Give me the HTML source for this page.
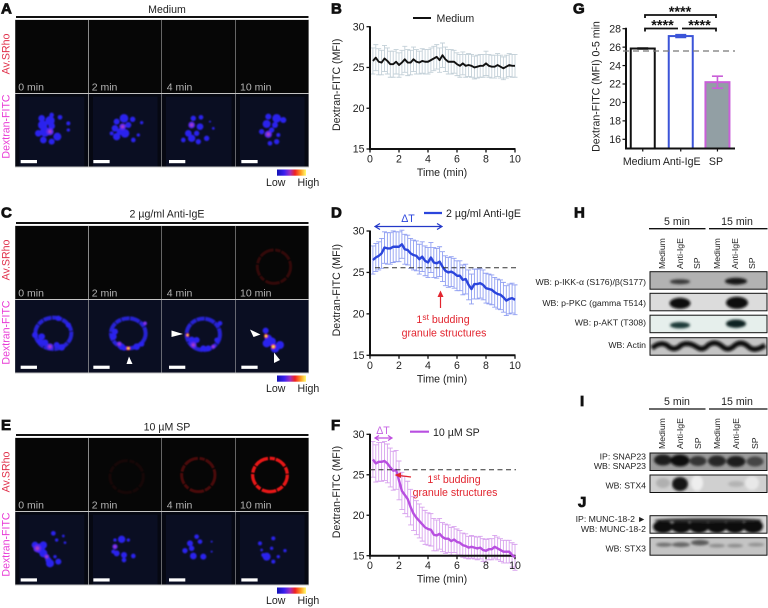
<!DOCTYPE html>
<html lang="en">
<head>
<meta charset="utf-8">
<title>Dextran-FITC figure</title>
<style>
html,body{margin:0;padding:0;background:#fff;width:768px;height:608px;overflow:hidden}
svg{display:block}
text{font-family:"Liberation Sans",sans-serif;fill:#222}
.pl{font-weight:bold;font-size:15px;fill:#111;stroke:#111;stroke-width:.8px}
.t{font-size:10.6px}
.s{font-size:8.7px}
.m{font-size:10.5px;fill:#b4b4b4}
.r{font-size:10.6px;fill:#e2252f}
</style>
</head>
<body>
<svg id="fig" xmlns="http://www.w3.org/2000/svg" width="768" height="608" viewBox="0 0 768 608">
<defs>
<linearGradient id="lut" x1="0" x2="1" y1="0" y2="0">
<stop offset="0" stop-color="#1212b4"/><stop offset=".25" stop-color="#3a20f0"/><stop offset=".45" stop-color="#a030c0"/><stop offset=".62" stop-color="#f02020"/><stop offset=".82" stop-color="#ff9a20"/><stop offset="1" stop-color="#ffff70"/>
</linearGradient>
<filter id="b1" x="-30%" y="-30%" width="160%" height="160%"><feGaussianBlur stdDeviation="2.6"/></filter>
<filter id="b2" x="-30%" y="-30%" width="160%" height="160%"><feGaussianBlur stdDeviation="1.6"/></filter>
<filter id="b3" x="-30%" y="-60%" width="160%" height="220%"><feGaussianBlur stdDeviation="1.2"/></filter>
</defs>

<g>
<text class="pl" x="1" y="13.500">A</text>
<text class="pl" x="331" y="13.500">B</text>
<text class="pl" x="1" y="217.500">C</text>
<text class="pl" x="331" y="217.500">D</text>
<text class="pl" x="1" y="430">E</text>
<text class="pl" x="331" y="430">F</text>
<text class="pl" x="573" y="13.500">G</text>
<text class="pl" x="574" y="217.500">H</text>
<text class="pl" x="580" y="406">I</text>
<text class="pl" x="578" y="507">J</text>
</g>

<g id="micro"></g>
<g id="charts"></g>

<g id="chartAnno">
<line x1="413" x2="431" y1="18" y2="18" stroke="#111" stroke-width="2"/>
<text class="t" x="436.500" y="22">Medium</text>

<line x1="424" x2="442" y1="213" y2="213" stroke="#2b45dc" stroke-width="2.200"/>
<text class="t" x="446" y="217">2 µg/ml Anti-IgE</text>
<text class="t" x="408" y="222" text-anchor="middle" style="fill:#2b45dc">ΔT</text>
<path d="M375 226.500H442M380 223.500L375 226.500L380 229.500M437 223.500L442 226.500L437 229.500" fill="none" stroke="#2338c8" stroke-width="1.200"/>
<line x1="375" x2="517" y1="267.700" y2="267.700" stroke="#333" stroke-width="1" stroke-dasharray="5 3.500"/>
<path d="M440.500 308V295" stroke="#e2252f" stroke-width="1.200"/>
<path d="M440.500 290.500L437.500 297H443.500Z" fill="#e2252f"/>
<text class="r" x="443" y="323" text-anchor="middle">1<tspan dy="-3" font-size="8.500" style="fill:#e2252f">st</tspan><tspan dy="3"> budding</tspan></text>
<text class="r" x="444" y="336.500" text-anchor="middle">granule structures</text>

<line x1="410" x2="429" y1="431.700" y2="431.700" stroke="#b84fe0" stroke-width="2.200"/>
<text class="t" x="433" y="436">10 µM SP</text>
<text class="t" x="383" y="434" text-anchor="middle" style="fill:#c765e4">ΔT</text>
<path d="M375 438H392M379 435.500L375 438L379 440.500M388 435.500L392 438L388 440.500" fill="none" stroke="#c04fe0" stroke-width="1.200"/>
<line x1="370" x2="516" y1="469.700" y2="469.700" stroke="#333" stroke-width="1" stroke-dasharray="5 3.500"/>
<path d="M411 477L399 475.500" stroke="#e2252f" stroke-width="1.200"/>
<path d="M394.500 475L401 472.500V478Z" fill="#e2252f"/>
<text class="r" x="454" y="483" text-anchor="middle">1<tspan dy="-3" font-size="8.500" style="fill:#e2252f">st</tspan><tspan dy="3"> budding</tspan></text>
<text class="r" x="455" y="496" text-anchor="middle">granule structures</text>
</g>

<g id="barChart"></g>
<g id="blots"></g>

<script>
// ---------- line chart data (panels B, D, F) ----------
const timePoints = [0.2,0.4,0.6,0.8,1,1.2,1.4,1.6,1.8,2,2.2,2.4,2.6,2.8,3,3.2,3.4,3.6,3.8,4,4.2,4.4,4.6,4.8,5,5.2,5.4,5.6,5.8,6,6.2,6.4,6.6,6.8,7,7.2,7.4,7.6,7.8,8,8.2,8.4,8.6,8.8,9,9.2,9.4,9.6,9.8,10];
const mediumMeans = [25.8,26.2,25.7,25.6,26.1,25.8,25.4,25.4,25.7,25.3,25.6,26,25.6,25.6,26,25.7,25.6,25.8,25.7,25.7,25.9,26.1,26.3,25.9,26.5,26,25.7,25.7,25.7,25.4,25.2,25.5,25.2,25.3,25.2,25,25.1,25.2,25.2,25.5,25.2,25.1,25.1,25.3,25.1,24.9,25.1,25.3,25.2,25.2];
const mediumErrors = [1.6,1.6,1.6,1.5,1.6,1.6,1.6,1.6,1.5,1.5,1.5,1.6,1.6,1.5,1.5,1.5,1.4,1.5,1.5,1.5,1.5,1.5,1.5,1.5,1.5,1.5,1.5,1.5,1.4,1.4,1.4,1.4,1.4,1.4,1.4,1.4,1.4,1.4,1.4,1.5,1.4,1.4,1.4,1.4,1.4,1.4,1.4,1.4,1.4,1.4];
const antiIgeMeans = [26.5,26.8,27,27.3,28,27.9,27.9,28.1,28.1,28.1,28.4,27.8,27.7,27.3,27.1,27,26.6,26.9,26.4,26.2,26.8,26.2,26.1,26.3,25.7,25.2,25,25.1,24.9,24.6,24.6,24.1,24.2,23.5,23,23.6,23.6,23.7,23.5,23.1,23,22.9,22.6,22.4,22.3,22,21.6,21.8,21.9,21.7];
const antiIgeErrors = [1.7,1.7,1.7,1.8,1.9,1.9,1.9,1.9,1.8,1.8,1.7,1.8,1.8,1.8,1.8,1.8,1.8,1.8,1.8,1.8,1.8,1.8,1.8,1.8,1.8,1.8,1.8,1.8,1.8,1.8,1.8,1.8,1.8,1.8,1.8,1.8,1.8,1.8,1.8,1.8,1.8,1.8,1.8,1.8,1.8,1.8,1.8,1.8,1.8,1.8];
const spMeans = [26.9,26.4,26.6,26.6,26.7,26.4,25.9,25.5,25.6,24.3,23,22.5,22,21,20.2,19.7,19.3,18.9,18.5,18.3,18.2,17.6,17.5,17.7,17.3,17.1,17.1,16.8,17,16.7,16.6,16.3,16.2,16,16.1,16,15.9,16,15.7,15.6,15.8,15.8,16.1,15.9,15.7,15.5,15.5,15.5,15.1,14.8];
const spErrors = [2.2,2.3,2.4,2.4,2.4,2.4,2.4,2.4,2.4,2.4,2.3,2.3,2.2,2.2,2.1,2.1,2.1,2.1,2.1,2,2,2,1.9,1.9,1.8,1.8,1.7,1.7,1.6,1.6,1.5,1.5,1.5,1.4,1.4,1.4,1.4,1.4,1.4,1.4,1.3,1.3,1.4,1.4,1.4,1.4,1.4,1.4,1.5,1.6];
const xTickLabels = [0,2,4,6,8,10];
const yTickLabels = [15,20,25,30];

// ---------- bar chart data (panel G) ----------
const barCategories = ["Medium","Anti-IgE","SP"];
const barValues = [25.85,27.2,22.2];
const barErrors = [0.05,0.15,0.65];
const barYTicks = [16,18,20,22,24,26,28];

const NS = "http://www.w3.org/2000/svg";
function mk(tag, attrs, parent, text){
  const el = document.createElementNS(NS, tag);
  for (const k in attrs) el.setAttribute(k, attrs[k]);
  if (text !== undefined) el.textContent = text;
  parent.appendChild(el);
  return el;
}
function linear(d0,d1,r0,r1){ return v => r0 + (v-d0)*(r1-r0)/(d1-d0); }

function drawLineChart(c){
  const g = mk("g",{},document.getElementById("charts"));
  
  
  const sx = linear(0,10,370,515), sy = linear(15,30,c.y15,c.y30);
  c.t.forEach((t,i)=>{
    const x = sx(t), hi = sy(c.m[i]+c.e[i]), lo = sy(c.m[i]-c.e[i]);
    const eb = mk("path",{d:`M${x} ${hi}V${lo}M${x-2.5} ${hi}H${x+2.5}M${x-2.5} ${lo}H${x+2.5}`,fill:"none",stroke:c.ec,"stroke-width":.9},g);
    
    
  });
  const ax = mk("path",{d:`M370 ${c.y30-.5}V${c.y15+1}M369 ${c.y15}H515.500`,fill:"none",stroke:"#111","stroke-width":2},g);
  
  
  yTickLabels.forEach(v=>{
    const y = sy(v);
    const tk = mk("line",{x1:366.500,x2:370,y1:y,y2:y,stroke:"#111","stroke-width":1.300},g);
    
    
    const lb = mk("text",{class:"t",x:364.500,y:y+3.700,"text-anchor":"end"},g,v);
    
    
  });
  xTickLabels.forEach(v=>{
    const x = sx(v);
    const tk = mk("line",{x1:x,x2:x,y1:c.y15,y2:c.y15+3.500,stroke:"#111","stroke-width":1.300},g);
    
    
    const lb = mk("text",{class:"t",x:x,y:c.y15+13.500,"text-anchor":"middle"},g,v);
    
    
  });
  const xt = mk("text",{class:"t",x:442,y:c.y15+27,"text-anchor":"middle"},g,"Time (min)");
  
  
  const yc = (c.y15+c.y30)/2 - 3;
  const yt = mk("text",{class:"t",x:340,y:yc,"text-anchor":"middle",transform:`rotate(-90 340 ${yc})`},g,"Dextran-FITC (MFI)");
  
  
  const d = c.t.map((t,i)=>(i?"L":"M")+sx(t).toFixed(2)+" "+sy(c.m[i]).toFixed(2)).join("");
  const ln = mk("path",{d:d,fill:"none",stroke:c.lc,"stroke-width":c.lw,"stroke-linejoin":"round"},g);
  
  
}
drawLineChart({name:"chart-b-medium",t:timePoints,m:mediumMeans,e:mediumErrors,y15:149,y30:26.700,ec:"#c3d0d8",lc:"#111",lw:1.900});
drawLineChart({name:"chart-d-anti-ige",t:timePoints,m:antiIgeMeans,e:antiIgeErrors,y15:355.300,y30:231,ec:"#909ff2",lc:"#2b45dc",lw:2.400});
drawLineChart({name:"chart-f-sp",t:timePoints,m:spMeans,e:spErrors,y15:555.700,y30:434.300,ec:"#d8a2ee",lc:"#b84fe0",lw:2.400});

// ---------- bar chart ----------
(function(){
  const g = document.getElementById("barChart");
  const sy = linear(16,28,139.300,28.700);
  const colors = ["#111","#3b54d8","#c95fd8"];
  const fills = ["#fff","#fff","#929fa4"];
  const band = linear(0,3,626,735.500);
  const barW = 24;
  barCategories.forEach((cat,i)=>{
    const cx = band(i+.5) - (i===0?1.500:i===2?-0.200:0);
    const top = sy(barValues[i]), base = sy(15);
    const r = mk("rect",{x:cx-barW/2,y:top,width:barW,height:base-top,fill:fills[i],stroke:colors[i],"stroke-width":2},g);
    
    
    const hi = sy(barValues[i]+barErrors[i]), lo = sy(barValues[i]-barErrors[i]);
    const e = mk("path",{d:`M${cx} ${hi}V${lo}M${cx-5.500} ${hi}H${cx+5.500}M${cx-5.500} ${lo}H${cx+5.500}`,fill:"none",stroke:colors[i],"stroke-width":1.600},g);
    
    
    const tk = mk("line",{x1:cx,x2:cx,y1:base,y2:base+3,stroke:"#111","stroke-width":1.200},g);
    
    
    const lb = mk("text",{class:"t",x:[641.700,681.700,716][i],y:165,"text-anchor":"middle"},g,cat);
    
    
  });
  const ax = mk("path",{d:`M626 27.700V${sy(15)+.9}M625 ${sy(15)}H735`,fill:"none",stroke:"#111","stroke-width":2},g);
  
  
  barYTicks.forEach(v=>{
    const y = sy(v);
    const tk = mk("line",{x1:622.500,x2:626,y1:y,y2:y,stroke:"#111","stroke-width":1.200},g);
    
    
    const lb = mk("text",{class:"t",x:621,y:y+3.700,"text-anchor":"end"},g,v);
    
    
  });
  const yt = mk("text",{class:"t",x:599.500,y:86.500,"text-anchor":"middle",transform:"rotate(-90 599.500 86.500)"},g,"Dextran-FITC (MFI) 0-5 min");
  
  
  const dl = mk("line",{x1:623,x2:735,y1:51,y2:51,stroke:"#777","stroke-width":1.200,"stroke-dasharray":"6 4"},g);
  
  
  const br = mk("path",{d:"M645 18V15H716V18M645 31.500V28.500H678M682 28.500H716V31.500",fill:"none",stroke:"#111","stroke-width":1.800},g);
  
  
  [[680,16.500],[662.500,30],[699.500,30]].forEach(p=>{
    const s = mk("text",{x:p[0],y:p[1],"text-anchor":"middle","font-size":"14.500","font-weight":"bold",style:"fill:#111"},g,"****");
    
    
  });
})();

// ---------- microscopy decoration (coordinates in 3x crop space, row offset applied) ----------
const panelCols = [[15.3,73],[89,72.5],[162,73.5],[236,72.5]];
const timeLabels = ["0 min","2 min","4 min","10 min"];
const timeLabelX = [18.3,91.7,166.7,240];
const barX = [62,280,507,724];
const blobsA = [
 [[125,355,10],[155,345,7],[180,352,7],[128,375,14],[150,362,14],[115,400,10],[150,395,11,1],[172,410,12],[130,420,10],[155,425,9],[205,370,6],[205,390,5],[135,395,15],[155,378,10]],
 [[350,365,9],[372,355,13],[398,358,8],[345,385,10],[368,380,10,1],[350,410,11],[375,400,13],[400,420,7],[415,405,5],[425,368,5],[335,400,6],[360,395,10],[385,375,9]],
 [[580,355,8],[603,352,7],[575,375,10,1],[600,380,10],[565,400,10],[575,415,11],[550,420,7],[620,415,8],[595,425,8],[640,385,4],[590,400,8],[630,365,3]],
 [[805,350,9],[830,355,13],[850,360,9],[800,372,12],[825,375,9],[785,395,8],[805,403,11,1],[810,430,7],[830,425,8],[835,405,6],[815,390,8]]
];
const blobsC = [
 [[150,440,10,1],[125,410,10,0],[185,442,10,0],[120,425,9,0],[170,435,9,0],[135,428,10,0],[205,375,8,0],[175,355,8,0],[105,405,9,0]],
 [[385,445,6,2],[358,432,8,1],[435,370,6,1],[410,440,10,0],[340,410,10,0],[365,440,10,0],[425,432,8,0],[345,395,9,0],[372,445,7,0]],
 [[563,405,5,2],[580,435,10,1],[610,445,9,0],[640,440,7,1],[590,420,9,0],[650,420,7,0],[575,420,10,0],[625,445,9,0],[660,370,7,0]],
 [[798,408,6,2],[820,440,7,2],[800,430,12,0],[840,435,12,0],[797,392,9,0],[815,425,13,0],[825,445,13,0],[805,415,11,0]]
];
const ringsC = [[160,400,54,47],[385,400,52,45],[610,403,50,47]];
const blobsE = [
 [[112,445,12,1],[130,460,12,0],[140,470,8,1],[160,400,7],[190,408,4],[170,420,5],[195,428,4],[150,490,12],[175,485,9],[105,435,10],[130,435,11],[165,470,5],[120,445,15],[145,480,9]],
 [[345,440,8,1],[365,418,11],[350,460,9],[372,465,9],[400,468,7],[372,480,7],[385,420,5],[345,420,5],[340,455,6]],
 [[590,410,7],[570,430,9],[555,452,8],[580,468,10],[610,470,9],[600,425,7],[635,455,3],[635,425,3],[575,445,8]],
 [[800,470,12],[820,415,6],[780,430,6],[815,445,5],[855,452,5],[835,470,5],[820,485,6],[785,450,4],[790,465,6]]
];
const redRings = [
 {row:0,cx:822,cy:200,rx:50,ry:50,op:.2,w:9},
 {row:2,cx:380,cy:230,rx:50,ry:48,op:.07,w:9},
 {row:2,cx:595,cy:225,rx:50,ry:50,op:.3,w:9},
 {row:2,cx:810,cy:225,rx:52,ry:50,op:1,w:10}
];

function drawRow(name, title, titleY, lineY, topY, oy, blobs, rings, scaleY){
  const m = document.getElementById("micro");
  const g = mk("g",{},m);
  
  
  const t = mk("text",{class:"t",x:167,y:titleY,"text-anchor":"middle"},g,title);
  
  
  const l = mk("rect",{x:16,y:lineY-1,width:292.500,height:2,fill:"#111"},g);
  
  
  const h = 73;
  const bg = mk("rect",{x:15,y:topY-.5,width:294,height:h*2+2,fill:"#c4c4c4"},g);
  
  
  panelCols.forEach((c,i)=>{
    const r1 = mk("rect",{x:c[0],y:topY,width:c[1],height:h,fill:"#060606"},g);
    
    
    const r2 = mk("rect",{x:c[0],y:topY+h+1,width:c[1],height:h-.5,fill:"#060812"},g);
    
    
    const inset = name==="row-c"?0:4;
    const r3 = mk("rect",{x:c[0]+inset,y:topY+h+1+inset/1.5,width:c[1]-inset*2,height:h-.5-inset/1.5,fill:"#0a0e22"},g);
    
    
  });
  const z = mk("g",{transform:`translate(0 ${oy}) scale(.3333)`},g);
  
  
  const soft = mk("g",{filter:"url(#b1)"},z);
  rings.forEach(r=>{
    const e = mk("ellipse",{cx:r[0],cy:r[1],rx:r[2],ry:r[3],fill:"none",stroke:"#2820d4","stroke-width":12,"stroke-dasharray":"30 2 18 2 24 2"},soft);
    
    
  });
  blobs.forEach(panel=>panel.slice().sort((p,q)=>(p[3]||0)-(q[3]||0)).forEach(b=>{
    const e = mk("circle",{cx:b[0],cy:b[1],r:b[2],fill:b[3]===1?"#5a28ec":b[3]===2?"#e02030":"#2c20ee"},soft);
    
    
    if(b[3]===2){
      const y = mk("circle",{cx:b[0],cy:b[1],r:b[2]*.55,fill:"#ffe860"},soft);
      
      
    } else if(b[3]===1){
      const y = mk("circle",{cx:b[0],cy:b[1],r:b[2]*.45,fill:"#a83cc8"},soft);
      
      
    }
  }));
  timeLabels.forEach((s,i)=>{
    const lb = mk("text",{class:"m",x:timeLabelX[i],y:topY+h-2.300},g,s);
    
    
    const sb = mk("rect",{x:barX[i]/3,y:oy+scaleY/3,width:16.300,height:3.200,fill:"#fff"},g);
    
    
  });
  const yA = topY+34, yD = topY+106.500;
  const a = mk("text",{class:"t",x:9.500,y:yA,"text-anchor":"middle",transform:`rotate(-90 9.500 ${yA})`,style:"fill:#e0304a"},g,"Av.SRho");
  
  
  const d = mk("text",{class:"t",x:9.500,y:yD,"text-anchor":"middle",transform:`rotate(-90 9.500 ${yD})`,style:"fill:#e83bd6"},g,"Dextran-FITC");
  
  
  const ly = topY+h+h+3.500;
  const gr = mk("rect",{x:277,y:ly,width:29,height:6.200,fill:"url(#lut)"},g);
  
  
  const lo = mk("text",{class:"t",x:266,y:ly+16.500},g,"Low");
  
  
  const hi = mk("text",{class:"t",x:297.500,y:ly+16.500},g,"High");
  
  
}
drawRow("row-a","Medium",13,17,20,0,blobsA,[],480);
drawRow("row-c","2 µg/ml Anti-IgE",217.500,223,226,200,blobsC,ringsC,497);
drawRow("row-e","10 µM SP",430.500,435,438,400,blobsE,[],535);

(function(){
  const m = document.getElementById("micro");
  redRings.forEach(r=>{
    const oy = r.row===0?200:400;
    const z = mk("g",{transform:`translate(0 ${oy}) scale(.3333)`,filter:"url(#b2)",opacity:r.op},m);
    
    
    const e = mk("ellipse",{cx:r.cx,cy:r.cy,rx:r.rx,ry:r.ry,fill:"none",stroke:"#e61414","stroke-width":r.w,"stroke-dasharray":"34 4 20 3 44 5 16 3"},z);
    
    
  });
  const a = mk("path",{d:"M129 356.500L126.500 364H132.500ZM183 334L171.500 330.500V337ZM260.500 334.500L250 329.500L253.500 337ZM274 352.500L274 363L280 360Z",fill:"#fff"},m);
  
  
})();

// ---------- western blots ----------
const columnNames = ["Medium","Anti-IgE","SP","Medium","Anti-IgE","SP"];
function header(name, lineY, textY, labelY, xs){
  const b = document.getElementById("blots");
  const g = mk("g",{},b);
  
  
  [["5 min",677,649,705.500],["15 min",737,709,767.500]].forEach(h=>{
    const t = mk("text",{class:"t",x:h[1],y:textY,"text-anchor":"middle"},g,h[0]);
    
    
    const l = mk("line",{x1:h[2],x2:h[3],y1:lineY,y2:lineY,stroke:"#111","stroke-width":1.300},g);
    
    
  });
  columnNames.forEach((c,i)=>{
    const t = mk("text",{class:"s",x:xs[i]+3,y:labelY,transform:`rotate(-90 ${xs[i]+3} ${labelY})`},g,c);
    
    
  });
}
header("blot-header-h",228.700,225,269,[662,680,697,717,735,752]);
header("blot-header-i",409,405,449,[662,680,698,717,736,755]);

function actinWave(y){
  return `M652 ${y}Q660 ${y-7} 667 ${y-3}Q674 ${y+4} 681 ${y-3}Q688 ${y-7} 697 ${y-1}Q703 ${y+3} 708 ${y-3}Q715 ${y-8} 722 ${y-2}Q728 ${y+4} 735 ${y-3}Q742 ${y-8} 749 ${y-1}Q755 ${y+4} 765 ${y-3}`;
}
function blot(name, y, bg, labels, bands, wave){
  const b = document.getElementById("blots");
  const g = mk("g",{},b);
  
  
  const h = 17.500;
  const cid = "clip-"+name;
  const cp = mk("clipPath",{id:cid},g);
  mk("rect",{x:650,y:y,width:117,height:h},cp);
  const r = mk("rect",{x:650,y:y,width:117,height:h,fill:bg},g);
  
  
  const clip = mk("g",{"clip-path":`url(#${cid})`},g);
  const inner = mk("g",{filter:"url(#b3)"},clip);
  bands.forEach(d=>{
    const e = mk("ellipse",{cx:d[0],cy:y+d[1],rx:d[2],ry:d[3],fill:d[4]},inner);
    
    
  });
  if(wave){
    const p = mk("path",{d:actinWave(y+10.500),fill:"none",stroke:"#0c0c0c","stroke-width":5},inner);
    
    
  }
  const f = mk("rect",{x:650,y:y,width:117,height:h,fill:"none",stroke:"#111","stroke-width":1},g);
  
  
  labels.forEach(l=>{
    const t = mk("text",{class:"s",x:646,y:l[1],"text-anchor":"end"},g,l[0]);
    
    
  });
}
blot("blot-ikk",271.700,"#b2b2b2",[["WB: p-IKK-α (S176)/β(S177)",285]],[[680,10,10,2.500,"#3a3a3a"],[736,9.500,11,3.500,"#181818"]]);
blot("blot-pkc",293.300,"#dcdcdc",[["WB: p-PKC (gamma T514)",306]],[[680,10,10.500,5.500,"#0a0a0a"],[737,9.500,11,6,"#080808"]]);
blot("blot-akt",315.200,"#e6efec",[["WB: p-AKT (T308)",325.500]],[[680,10,10,3.200,"#1e3a38"],[736,8.500,10,4.200,"#0a2220"]]);
blot("blot-actin",337.700,"#c4c4c4",[["WB: Actin",348]],[],true);
blot("blot-snap23",453,"#9c9c9c",[["IP: SNAP23",459.500],["WB: SNAP23",469]],[[663,7,9,5.500,"#1e1e1e"],[680,7.500,9.500,6,"#111"],[698,8,8.500,5,"#363636"],[717,8,9,5.500,"#262626"],[736,8.500,9.500,5.500,"#1a1a1a"],[755,8.500,8.500,5,"#444"]]);
blot("blot-stx4",475,"#d0d0d0",[["WB: STX4",488.500]],[[680,9,8,7,"#141414"],[663,8,7,5,"#b0b0b0"],[736,9,8,3,"#b4b4b4"],[697,8,6,8,"#eeeeee"],[752,8,7,7,"#e8e8e8"]]);
blot("blot-munc18",515.700,"#d8d8d8",[["IP: MUNC-18-2 ►",522],["WB: MUNC-18-2",532]],[[663,11,10,6.500,"#111"],[681,11,10,6.500,"#111"],[699,10.500,10,7,"#111"],[717,10.500,10,7,"#111"],[735,10.500,10,7,"#111"],[753,10.500,10,7,"#111"],[708,4.500,54,2,"#2c2c2c"]]);
blot("blot-stx3",537.700,"#c4c4c4",[["WB: STX3",551.500]],[[664,7,8,2,"#707070"],[681,7,9,2.400,"#666"],[700,5,9,2.800,"#5a5a5a"],[717,8,8,1.800,"#8c8c8c"],[735,8,8,1.800,"#8c8c8c"],[756,7,8,1.800,"#929292"]]);
</script>
</svg>
</body>
</html>
